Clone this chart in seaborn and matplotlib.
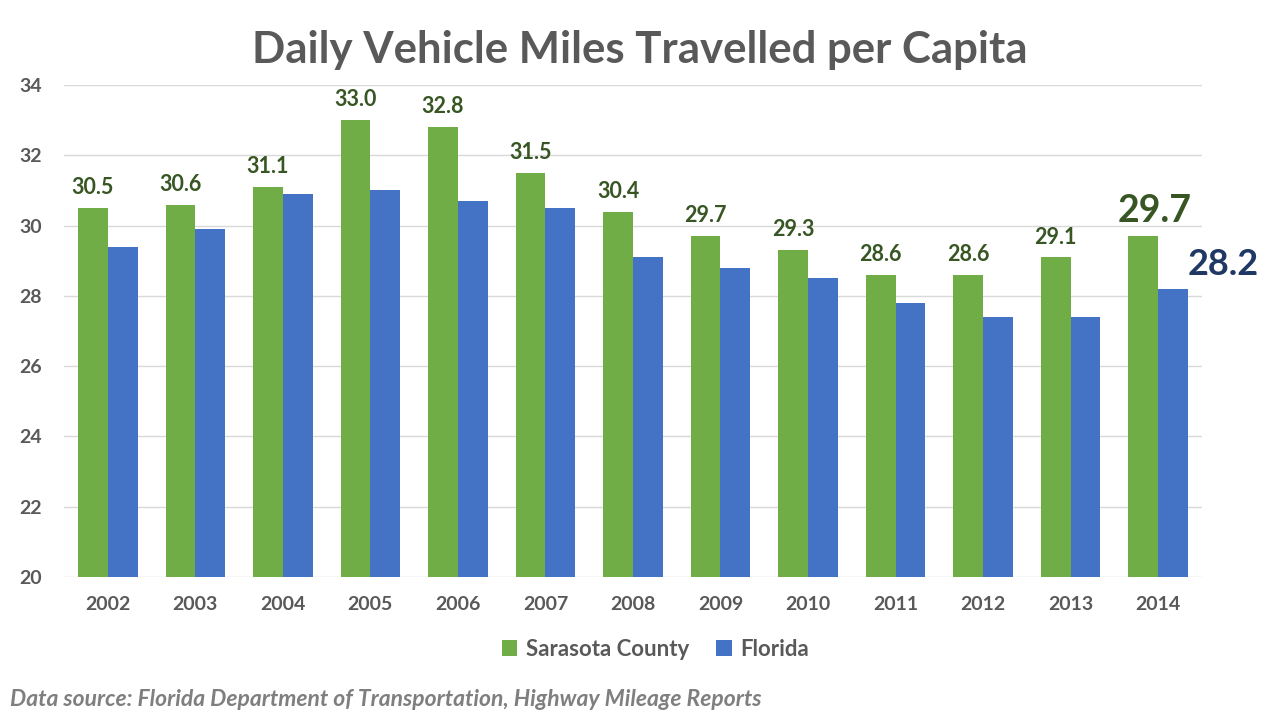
import matplotlib
matplotlib.use("Agg")
import matplotlib.pyplot as plt
import seaborn as sns
import pandas as pd

years = ["2002", "2003", "2004", "2005", "2006", "2007", "2008",
         "2009", "2010", "2011", "2012", "2013", "2014"]
sarasota = [30.5, 30.6, 31.1, 33.0, 32.8, 31.5, 30.4, 29.7, 29.3, 28.6, 28.6, 29.1, 29.7]
florida = [29.4, 29.9, 30.9, 31.0, 30.7, 30.5, 29.1, 28.8, 28.5, 27.8, 27.4, 27.4, 28.2]
series_names = ["Sarasota County", "Florida"]
title = "Daily Vehicle Miles Travelled per Capita"
source = "Data source: Florida Department of Transportation, Highway Mileage Reports"

sns.set_theme(style="white")
plt.rcParams["font.family"] = ["Lato", "DejaVu Sans"]

df = pd.DataFrame({
    "Year": years * 2,
    "Value": sarasota + florida,
    "Series": [series_names[0]] * len(years) + [series_names[1]] * len(years),
})

green = "#70AD47"
blue = "#4472C4"
gray = "#595959"

fig = plt.figure(figsize=(12.8, 7.2), dpi=100)
ax = fig.add_axes([0.05, 0.1986, 0.889, 0.6833])

sns.barplot(data=df, x="Year", y="Value", hue="Series", palette=[green, blue],
            width=0.68, ax=ax, saturation=1, legend=True, linewidth=0)

ax.set_ylim(20, 34)
ax.set_xlim(-0.5, len(years) - 0.5)
ax.set_yticks(range(20, 35, 2))
ax.yaxis.grid(True, color="#D9D9D9", linewidth=1)
ax.set_axisbelow(True)
for s in ax.spines.values():
    s.set_visible(False)
ax.set_xlabel("")
ax.set_ylabel("")
ax.tick_params(axis="both", length=0, labelsize=14, labelcolor=gray)
ax.tick_params(axis="x", pad=14)
ax.tick_params(axis="y", pad=16)
for lab in ax.get_xticklabels() + ax.get_yticklabels():
    lab.set_fontweight("bold")

# data labels
gbars = ax.containers[0]
bbars = ax.containers[1]
n = len(years)
for i, (bar, v) in enumerate(zip(gbars, sarasota)):
    x = bar.get_x() + bar.get_width() / 2
    if i == n - 1:
        ax.annotate(f"{v:.1f}", (x, bar.get_height()), xytext=(8, 6),
                    textcoords="offset points", ha="center", va="bottom",
                    fontsize=27, fontweight="bold", color="#375623")
    else:
        ax.annotate(f"{v:.1f}", (x, bar.get_height()), xytext=(0, 7),
                    textcoords="offset points", ha="center", va="bottom",
                    fontsize=15.5, fontweight="bold", color="#375623")
lastb = bbars[n - 1]
ax.annotate(f"{florida[-1]:.1f}", (lastb.get_x() + lastb.get_width(), lastb.get_height()),
            xytext=(0, 6), textcoords="offset points", ha="left", va="bottom",
            fontsize=26, fontweight="bold", color="#1F3864", annotation_clip=False)

fig.text(0.5, 0.93, title, ha="center", va="center", fontsize=31.5,
         fontweight="bold", color=gray)

leg = ax.legend(loc="upper center", bbox_to_anchor=(0.52, -0.085), ncol=2,
                frameon=False, fontsize=16, handlelength=0.7, handleheight=0.7,
                columnspacing=1.2, handletextpad=0.4)
for t in leg.get_texts():
    t.set_color(gray)
    t.set_fontweight("bold")

fig.text(0.008, 0.028, source, ha="left", va="center", fontsize=16.5,
         fontstyle="italic", fontweight="bold", color="#7F7F7F")

fig.savefig("out.png", dpi=100)
